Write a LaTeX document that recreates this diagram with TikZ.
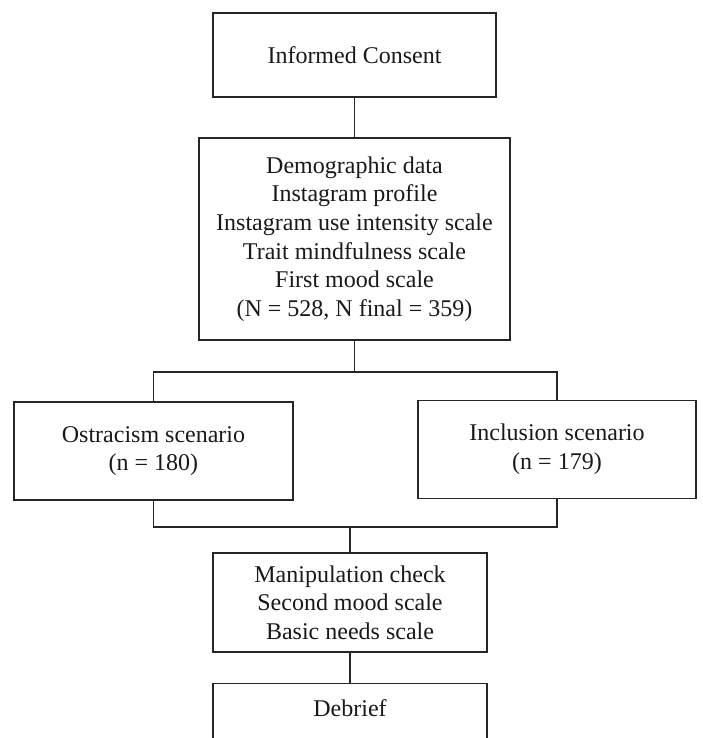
\documentclass[tikz,border=0pt]{standalone}
\usepackage{fontspec}
\setmainfont{Liberation Serif}
\begin{document}
\begin{tikzpicture}[x=1pt,y=-1pt,
  box/.style={draw=black!85, line width=1.3pt, rectangle, inner sep=0pt, align=center,
    font=\fontsize{24}{28.7}\selectfont, text=black!90},
  lbl/.style={inner sep=0pt, align=center, font=\fontsize{24}{28.7}\selectfont, text=black!90},
  link/.style={draw=black!85, line width=1.3pt}]
\useasboundingbox (0,0) rectangle (702,738);
\clip (0,0) rectangle (702,738);
\node[box, minimum width=283pt, minimum height=84pt] (ic) at (354.5,55) {\raisebox{-4pt}{Informed Consent}};
\node[box, minimum width=311pt, minimum height=202pt] (demo) at (354.5,239) {Demographic data\\Instagram profile\\Instagram use intensity scale\\Trait mindfulness scale\\First mood scale\\(N = 528, N final = 359)};
\node[box, minimum width=279pt, minimum height=98pt] (ost) at (153.5,451) {Ostracism scenario\\(n = 180)};
\node[box, minimum width=278pt, minimum height=98pt] (inc) at (557,449.5) {Inclusion scenario\\(n = 179)};
\node[box, minimum width=274pt, minimum height=99pt] (man) at (350,602.5) {Manipulation check\\Second mood scale\\Basic needs scale};
\node[box, minimum width=274pt, minimum height=110pt, anchor=north] (deb) at (350,683) {};
\node[lbl] (debt) at (350,708) {Debrief};
\coordinate (top) at (354.5,372);
\coordinate (bot) at (350,527);
\draw[link] (ic.south) -- (demo.north);
\draw[link] (demo.south) -- (top);
\draw[link] (ost.north) |- (top) -| (inc.north);
\draw[link] (ost.south) |- (bot) -| (inc.south);
\draw[link] (bot) -- (man.north);
\draw[link] (man.south) -- (deb.north);
\end{tikzpicture}
\end{document}
